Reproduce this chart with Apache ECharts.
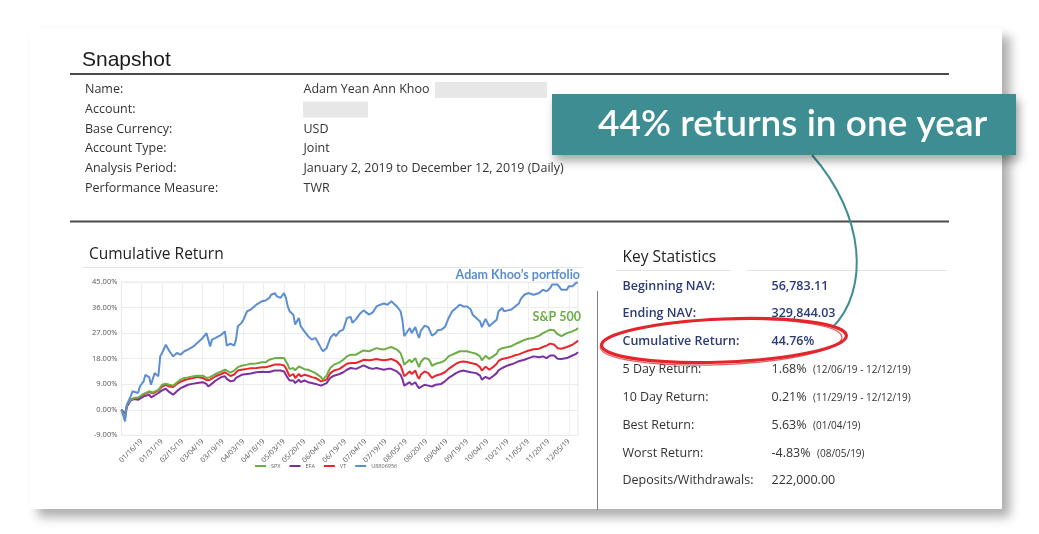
<!DOCTYPE html>
<html><head><meta charset="utf-8">
<script src="https://cdn.jsdelivr.net/npm/echarts@6/dist/echarts.min.js"></script>
<style>html,body{margin:0;padding:0;background:#fff;}#c{width:1039px;height:534px;}</style>
</head><body><div id="c"></div>
<script>
// ---- categories: weekdays 01/01/19 .. 12/12/19 ----
const categories = [];
(function(){
  const end = Date.UTC(2019, 11, 12);
  for (let t = Date.UTC(2019, 0, 1); t <= end; t += 86400000) {
    const d = new Date(t), wd = d.getUTCDay();
    if (wd === 0 || wd === 6) continue;
    const mm = String(d.getUTCMonth() + 1).padStart(2, '0');
    const dd = String(d.getUTCDate()).padStart(2, '0');
    categories.push(mm + '/' + dd + '/19');
  }
})();

const seriesNames = ['SPX', 'EFA', 'VT', 'U8806956'];
const yTicks = [-9, 0, 9, 18, 27, 36, 45];

// weekday index (into categories) of each sampled point
const sampleDay = [0,1,2,3,5,6,7,9,10,12, 13,15,16,17,18,20,21,22,24,25, 26,28,30,32,34,36,39,41,42,44,
  46,47,48,49,51,52,54,56,57,59, 61,62,63,65,66,68,70,71,73,74, 76,78,80,81,83,84,86,88,89,90,
  91,93,94,96,97,99,101,103,105,106, 108,109,111,112,113,115,116,118,120,122, 124,125,127,129,131,132,134,136,138,140,
  142,144,146,147,149,151,152,153,154,156, 157,159,160,161,162,164,166,167,168,170, 171,173,175,177,179,181,183,185,187,189,
  190,192,194,195,196,197,199,201,203,204, 206,207,209,211,213,215,216,218,220,223, 224,226,228,230,232,233,234,236,238,239,
  241,242,244,246,247];

const portfolio = [0,-0.2,-4.1,1.8,4.7,6.5,6.8,5.9,8.2,10.0, 12.3,11.5,8.8,9.4,12.9,11.8,18.8,20.0,22.9,23.5,
  20.6,18.8,20.0,19.4,20.6,21.2,22.3,23.5,22.9,25.3, 27.0,24.7,22.3,24.7,25.3,25.9,26.4,27.6,22.6,23.3,
  22.6,24.7,29.4,30.6,31.7,34.7,35.3,35.5,37.0,37.6, 38.2,38.5,39.4,40.5,41.1,40.0,39.4,41.1,39.4,36.4,
  34.7,33.5,30.0,32.3,29.4,27.6,25.9,24.7,25.3,24.7, 21.7,20.6,21.7,22.3,25.3,26.8,25.9,27.6,28.2,32.3,
  32.7,30.6,32.0,33.8,35.0,34.7,33.5,34.3,36.4,37.0, 37.4,37.0,38.2,37.6,36.4,34.7,31.7,25.9,26.4,28.8,
  27.0,29.1,27.0,25.3,27.8,29.6,29.1,27.6,26.1,27.0, 28.0,28.2,29.1,32.3,34.7,35.8,37.0,36.4,36.4,35.3,
  33.5,32.3,31.1,29.1,30.6,32.0,29.4,30.6,31.7,34.7, 35.8,34.7,35.0,35.3,36.4,37.4,39.0,40.5,41.1,40.5,
  40.0,41.1,42.3,41.7,42.9,44.1,44.7,44.1,42.3,41.7, 42.3,43.5,43.5,44.7,44.8];

const spx = [0,-0.2,-2.5,1.8,3.5,4.0,4.1,4.3,4.7,5.6, 6.0,6.5,5.9,6.1,6.4,7.0,7.6,8.8,9.2,9.0,
  8.8,8.5,9.6,10.6,11.2,11.4,11.8,12.0,11.9,12.0, 11.2,10.8,11.5,11.9,12.6,12.9,13.5,14.1,13.5,13.1,
  13.8,14.2,15.0,15.5,15.7,15.9,16.2,16.2,16.3,16.5, 16.7,16.7,17.6,17.9,18.2,17.8,18.2,18.2,17.0,15.9,
  14.3,14.7,13.9,15.3,14.7,14.3,14.1,13.5,12.9,12.3, 11.5,10.6,12.0,13.5,14.7,15.9,16.2,16.7,17.6,18.8,
  19.4,18.8,19.4,20.2,20.9,21.2,20.6,21.2,21.7,21.4, 21.2,21.7,22.1,22.1,21.2,20.0,18.2,15.9,16.2,17.6,
  16.7,18.2,16.5,15.0,16.9,18.2,17.9,17.0,15.5,16.2, 16.7,16.7,17.4,18.8,19.4,20.0,20.6,20.6,20.6,20.2,
  20.0,19.7,18.8,17.4,18.2,19.0,17.9,18.8,19.7,21.0, 21.7,21.9,22.1,22.4,23.1,23.7,24.0,24.6,25.0,25.3,
  25.8,26.1,27.0,27.6,28.2,28.4,28.0,26.6,25.9,26.1, 27.0,27.2,27.6,28.2,28.8];

const vt = [0,-0.2,-2.0,1.5,3.6,4.0,4.1,3.9,4.5,5.4, 5.8,6.2,5.6,5.8,6.2,6.8,7.4,8.2,8.8,8.5,
  8.2,8.0,9.1,9.8,10.4,10.8,11.2,11.5,11.4,11.2, 10.4,10.0,10.6,11.0,11.8,12.0,12.6,13.2,12.6,11.9,
  12.4,12.9,13.8,14.1,14.3,14.4,14.6,14.7,14.7,14.8, 15.0,15.0,15.3,15.6,15.9,15.4,15.9,15.6,14.7,13.2,
  11.8,12.6,11.2,12.6,11.8,12.3,12.0,11.5,11.2,10.8, 10.0,9.5,10.6,11.8,12.9,13.8,14.0,14.4,15.3,16.2,
  16.5,15.9,16.5,17.0,17.6,17.8,17.4,17.6,17.9,17.6, 17.4,17.6,17.9,17.7,17.0,15.6,13.8,11.8,12.3,13.5,
  12.6,13.8,12.0,10.9,12.4,13.5,12.9,12.0,11.2,12.0, 12.6,12.6,13.2,14.4,15.3,16.2,16.8,17.0,16.8,16.5,
  16.3,16.0,15.0,13.8,14.4,15.2,14.1,15.0,16.2,17.2, 17.9,18.0,18.3,18.7,19.2,19.5,19.7,20.3,20.8,21.3,
  21.5,21.5,22.1,22.6,23.3,23.5,23.0,21.7,21.5,21.9, 22.1,22.5,22.9,23.8,24.4];

const efa = [0,-0.2,-1.5,1.2,3.2,3.6,3.8,3.5,4.1,4.7, 5.0,5.3,4.4,4.7,5.1,5.9,6.2,6.8,7.4,6.8,
  6.2,5.3,6.5,7.6,8.2,8.8,9.2,9.4,9.4,9.7, 9.1,8.2,8.8,9.2,10.3,10.9,11.5,11.8,10.9,10.0,
  10.3,11.2,11.8,12.3,12.4,12.6,12.8,12.9,13.2,13.2, 13.4,13.3,13.3,13.5,13.8,13.3,13.8,13.5,12.9,11.2,
  10.3,10.3,9.4,10.6,9.7,10.3,9.7,9.4,9.1,8.9, 8.5,8.2,9.4,10.3,11.2,12.0,12.2,12.6,13.2,14.1,
  14.7,14.1,14.4,15.0,15.6,15.4,14.7,14.4,14.7,14.4, 14.1,14.4,14.4,14.2,13.5,12.3,10.9,8.5,8.8,9.7,
  8.8,9.7,8.5,7.6,7.2,8.8,8.5,7.9,8.2,8.8, 9.4,9.1,10.0,11.2,12.0,12.9,13.5,13.8,13.5,13.2,
  13.2,12.9,12.0,10.6,11.2,11.6,10.9,11.8,12.9,13.9, 14.7,15.0,15.6,16.0,16.5,17.1,17.4,17.6,18.1,18.8,
  18.8,18.5,18.8,18.2,19.1,19.4,19.1,18.0,17.9,18.2, 18.2,18.7,19.1,19.7,20.3];

// ---- text content ----
const snapshotLabels = ['Name:', 'Account:', 'Base Currency:', 'Account Type:', 'Analysis Period:', 'Performance Measure:'];
const snapshotValues = ['Adam Yean Ann Khoo', '', 'USD', 'Joint', 'January 2, 2019 to December 12, 2019 (Daily)', 'TWR'];
const statLabels = ['Beginning NAV:', 'Ending NAV:', 'Cumulative Return:', '5 Day Return:', '10 Day Return:', 'Best Return:', 'Worst Return:', 'Deposits/Withdrawals:'];
const statValues = ['56,783.11', '329,844.03', '44.76%', '1.68%', '0.21%', '5.63%', '-4.83%', '222,000.00'];
const statNotes = ['', '', '', '(12/06/19 - 12/12/19)', '(11/29/19 - 12/12/19)', '(01/04/19)', '(08/05/19)', ''];

const colors = {SPX: '#6dad45', EFA: '#7b2fa0', VT: '#e8262d', U8806956: '#5b8fd1'};
const OS = '"Open Sans", sans-serif';

function txt(x, y, s, font, fill, align, z) {
  return {type: 'text', x: x, y: y, z: z || 5, silent: true,
    style: {text: s, font: font, fill: fill, align: align || 'left', verticalAlign: 'middle',
            textAlign: align || 'left', textVerticalAlign: 'middle'}};
}

const g = [];
// card with shadow
g.push({type: 'rect', z: -5, shape: {x: 30, y: 28, width: 972, height: 481},
  style: {fill: '#fff', shadowColor: 'rgba(0,0,0,0.32)', shadowBlur: 10, shadowOffsetX: 8, shadowOffsetY: 8}});
// Snapshot
g.push(txt(82, 60, 'Snapshot', '21px "Liberation Sans", Arial, sans-serif', '#1a1a1a'));
g.push({type: 'line', z: 3, shape: {x1: 70, y1: 74, x2: 949, y2: 74}, style: {stroke: '#4a4a4a', lineWidth: 2}});
g.push({type: 'line', z: 3, shape: {x1: 70, y1: 221.5, x2: 949, y2: 221.5}, style: {stroke: '#4a4a4a', lineWidth: 2}});
const rowY = [89.5, 109, 129, 148.5, 168, 188];
snapshotLabels.forEach((l, i) => {
  g.push(txt(85, rowY[i], l, '12.5px ' + OS, '#333'));
  if (snapshotValues[i]) g.push(txt(303.5, rowY[i], snapshotValues[i], '12.5px ' + OS, '#333'));
});
g.push({type: 'rect', z: 3, shape: {x: 435, y: 82, width: 112, height: 16}, style: {fill: '#e7e7e7'}});
g.push({type: 'rect', z: 3, shape: {x: 303, y: 101.5, width: 65, height: 16}, style: {fill: '#e7e7e7'}});

// Cumulative return heading
g.push(txt(89, 255, 'Cumulative Return', '15.5px ' + OS, '#222'));
g.push({type: 'line', z: 3, shape: {x1: 83, y1: 267.5, x2: 583, y2: 267.5}, style: {stroke: '#e4e4e4', lineWidth: 1}});
g.push(txt(580, 274.5, 'Adam Khoo\u2019s portfolio', 'bold 12.5px Lato, sans-serif', '#5b8dcc', 'right'));
g.push(txt(581, 317, 'S&P 500', 'bold 12.5px Lato, sans-serif', '#6dad45', 'right'));

// Key statistics
g.push(txt(622.5, 257.5, 'Key Statistics', '15.5px ' + OS, '#222'));
g.push({type: 'line', z: 3, shape: {x1: 616, y1: 270.5, x2: 731, y2: 270.5}, style: {stroke: '#e2e2e2', lineWidth: 1}});
g.push({type: 'line', z: 3, shape: {x1: 747, y1: 270.5, x2: 947, y2: 270.5}, style: {stroke: '#e2e2e2', lineWidth: 1}});
g.push({type: 'line', z: 3, shape: {x1: 597.5, y1: 291, x2: 597.5, y2: 510}, style: {stroke: '#808080', lineWidth: 1}});
const statY = [286, 313.5, 341.5, 369.5, 397, 425, 453, 480.5];
const noteX = [0, 0, 0, 813, 813, 813, 817, 0];
statLabels.forEach((l, i) => {
  const navy = i < 3;
  const font = (navy ? '600 ' : '') + '12.5px ' + OS;
  const col = navy ? '#2c3a78' : '#333';
  g.push(txt(622.5, statY[i], l, font, col));
  g.push(txt(771.5, statY[i], statValues[i], font, col));
  if (statNotes[i]) g.push(txt(noteX[i], statY[i] + 1, statNotes[i], '10px ' + OS, '#333'));
});

// teal connector curve
g.push({type: 'bezierCurve', z: 8, shape: {x1: 812, y1: 155, cpx1: 865, cpy1: 215, cpx2: 870, cpy2: 290, x2: 832, y2: 328},
  style: {stroke: '#3e8d92', lineWidth: 2, fill: null}});
// red hand-drawn ellipse
g.push({type: 'group', x: 724, y: 340.5, rotation: 0.04, z: 9, children: [
  {type: 'ellipse', z: 9, shape: {cx: 0, cy: 0, rx: 122.5, ry: 21.5}, style: {stroke: '#e3262c', lineWidth: 3.2, fill: null}},
  {type: 'ellipse', z: 9, shape: {cx: -3, cy: 1.5, rx: 121, ry: 22.5}, style: {stroke: 'rgba(227,38,44,0.75)', lineWidth: 1.2, fill: null}}
]});
// teal call-out box
g.push({type: 'rect', z: 10, shape: {x: 552, y: 94, width: 464, height: 61},
  style: {fill: '#3e8d92', shadowColor: 'rgba(0,0,0,0.35)', shadowBlur: 9, shadowOffsetX: 3, shadowOffsetY: 6}});
g.push(txt(598, 124.5, '44% returns in one year', '600 37px Lato, sans-serif', '#ffffff', 'left', 11));

const labelEvery = (idx) => idx > 0 && idx % 11 === 0;

const chart = echarts.init(document.getElementById('c'), null, {renderer: 'canvas'});
chart.setOption({
  animation: false,
  backgroundColor: '#ffffff',
  grid: {left: 121.4, top: 282, width: 456.6, height: 153.3, show: true, borderColor: '#e8e8e8', borderWidth: 1, backgroundColor: 'transparent'},
  legend: {left: 255, top: 463, padding: 0, icon: 'rect', itemWidth: 11, itemHeight: 2, itemGap: 9,
    textStyle: {fontSize: 5.5, color: '#666', fontFamily: OS, width: 22}, data: seriesNames},
  xAxis: {type: 'category', data: categories, boundaryGap: false,
    axisLine: {show: false}, axisTick: {show: false},
    axisLabel: {interval: labelEvery, rotate: 45, fontSize: 7.2, color: '#555', fontFamily: OS, margin: 5},
    splitLine: {show: true, interval: labelEvery, lineStyle: {color: '#efefef', width: 1}}},
  yAxis: {type: 'value', min: yTicks[0], max: yTicks[yTicks.length - 1], interval: 9,
    axisLine: {show: false}, axisTick: {show: false},
    axisLabel: {formatter: v => v.toFixed(2) + '%', fontSize: 7.5, color: '#555', fontFamily: OS, margin: 4},
    splitLine: {lineStyle: {color: '#ececec', width: 1}}},
  series: [
    {name: 'VT', src: vt}, {name: 'EFA', src: efa}, {name: 'SPX', src: spx}, {name: 'U8806956', src: portfolio}
  ].map(s => ({
    name: s.name, type: 'line', showSymbol: false, symbol: 'none', z: 4,
    data: sampleDay.map((d, i) => [d, s.src[i]]),
    lineStyle: {width: 2, color: colors[s.name]}, itemStyle: {color: colors[s.name]}
  })),
  graphic: {elements: g}
});
</script></body></html>
